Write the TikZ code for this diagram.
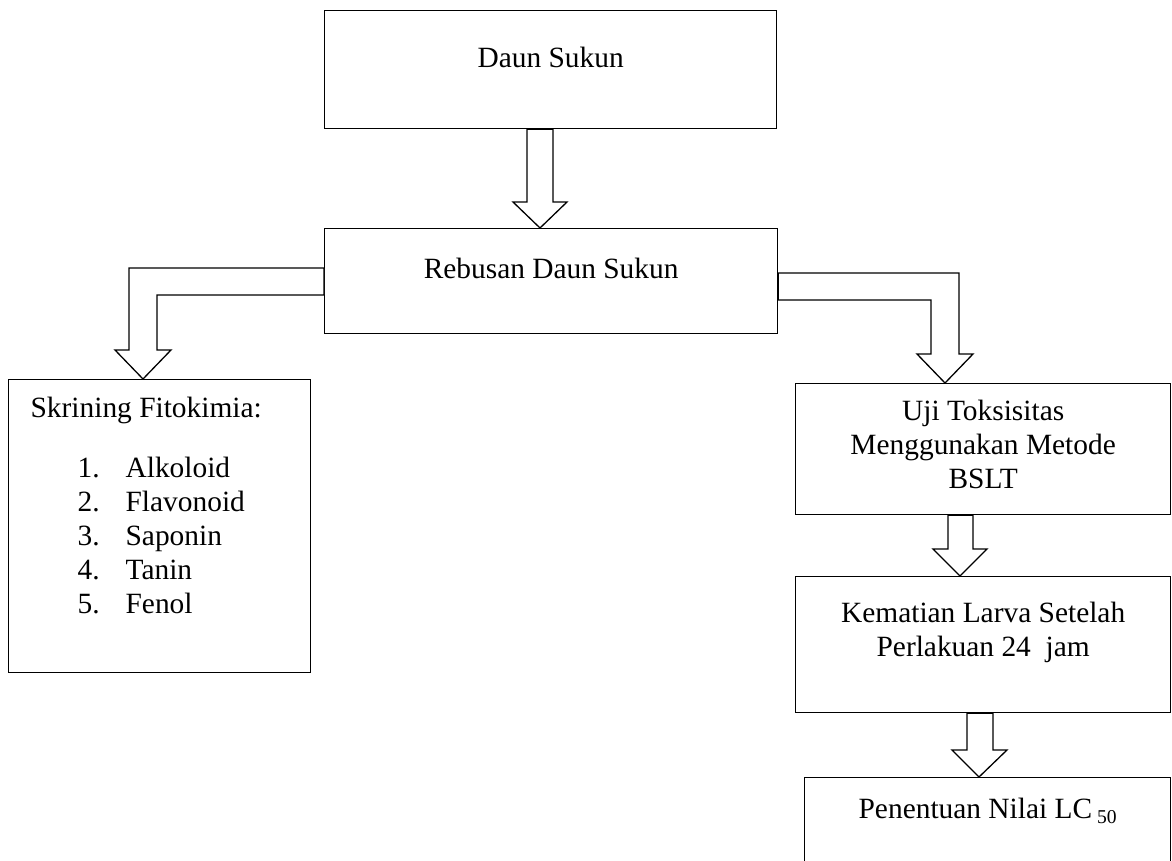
\documentclass[tikz,border=0pt]{standalone}
\usepackage{fontspec}
\setmainfont{Liberation Serif}
\tikzset{
  kotak/.style={draw, line width=1.3pt, rectangle, inner sep=0pt, anchor=north west},
  panah/.style={draw, line width=1.3pt, fill=white, line join=miter}
}
\begin{document}
\begin{tikzpicture}[x=1pt, y=-1pt, font=\fontsize{29.4}{34}\selectfont]
	\useasboundingbox (0,0) rectangle (1172,861);
	%kotak
	\node[kotak, minimum width=452pt, text height=57pt, text depth=61pt] (daun) at (324,10) {Daun Sukun};
	\node[kotak, minimum width=453pt, text height=50pt, text depth=55pt] (rebusan) at (324,228) {Rebusan Daun Sukun};
	\node[kotak, minimum width=302pt, text height=38pt, text depth=255pt] (skrining) at (8,379)
		{\makebox[302pt][l]{\hspace{22pt}\begin{tabular}[t]{@{}l@{}}
		Skrining Fitokimia:\\[26pt]
		\hspace{47pt}\makebox[48pt][l]{1.}Alkoloid\\
		\hspace{47pt}\makebox[48pt][l]{2.}Flavonoid\\
		\hspace{47pt}\makebox[48pt][l]{3.}Saponin\\
		\hspace{47pt}\makebox[48pt][l]{4.}Tanin\\
		\hspace{47pt}\makebox[48pt][l]{5.}Fenol
		\end{tabular}}};
	\node[kotak, minimum width=375pt, text height=37pt, text depth=94pt] (uji) at (795,383)
		{\begin{tabular}[t]{@{}c@{}}Uji Toksisitas\\Menggunakan Metode\\BSLT\end{tabular}};
	\node[kotak, minimum width=375pt, text height=46pt, text depth=90pt] (kematian) at (795,576)
		{\begin{tabular}[t]{@{}c@{}}Kematian Larva Setelah\\Perlakuan 24~ jam\end{tabular}};
	\node[kotak, minimum width=366pt, text height=41pt, text depth=82pt] (nilai) at (804,777)
		{Penentuan Nilai LC\raisebox{-5pt}{\fontsize{19.6}{20}\selectfont\ 50}};
	%panah
	\draw[panah] (daun.south -| 527,0) -- (527,202) -- (513,202) -- (rebusan.north -| 540,0)
		-- (567,202) -- (553,202) -- (daun.south -| 553,0) -- cycle;
	\draw[panah] (rebusan.west |- 0,268) -- (129,268) -- (129,350) -- (115,350) -- (skrining.north -| 143,0)
		-- (171,350) -- (157,350) -- (157,295) -- (rebusan.west |- 0,295) -- cycle;
	\draw[panah] (rebusan.east |- 0,273) -- (959,273) -- (959,354) -- (973,354) -- (uji.north -| 945,0)
		-- (917,354) -- (931,354) -- (931,300) -- (rebusan.east |- 0,300) -- cycle;
	\draw[panah] (uji.south -| 948,0) -- (948,549) -- (933,549) -- (kematian.north -| 960,0)
		-- (987,549) -- (973,549) -- (uji.south -| 973,0) -- cycle;
	\draw[panah] (kematian.south -| 967,0) -- (967,750) -- (952,750) -- (nilai.north -| 979,0)
		-- (1007,750) -- (993,750) -- (kematian.south -| 993,0) -- cycle;
\end{tikzpicture}
\end{document}
